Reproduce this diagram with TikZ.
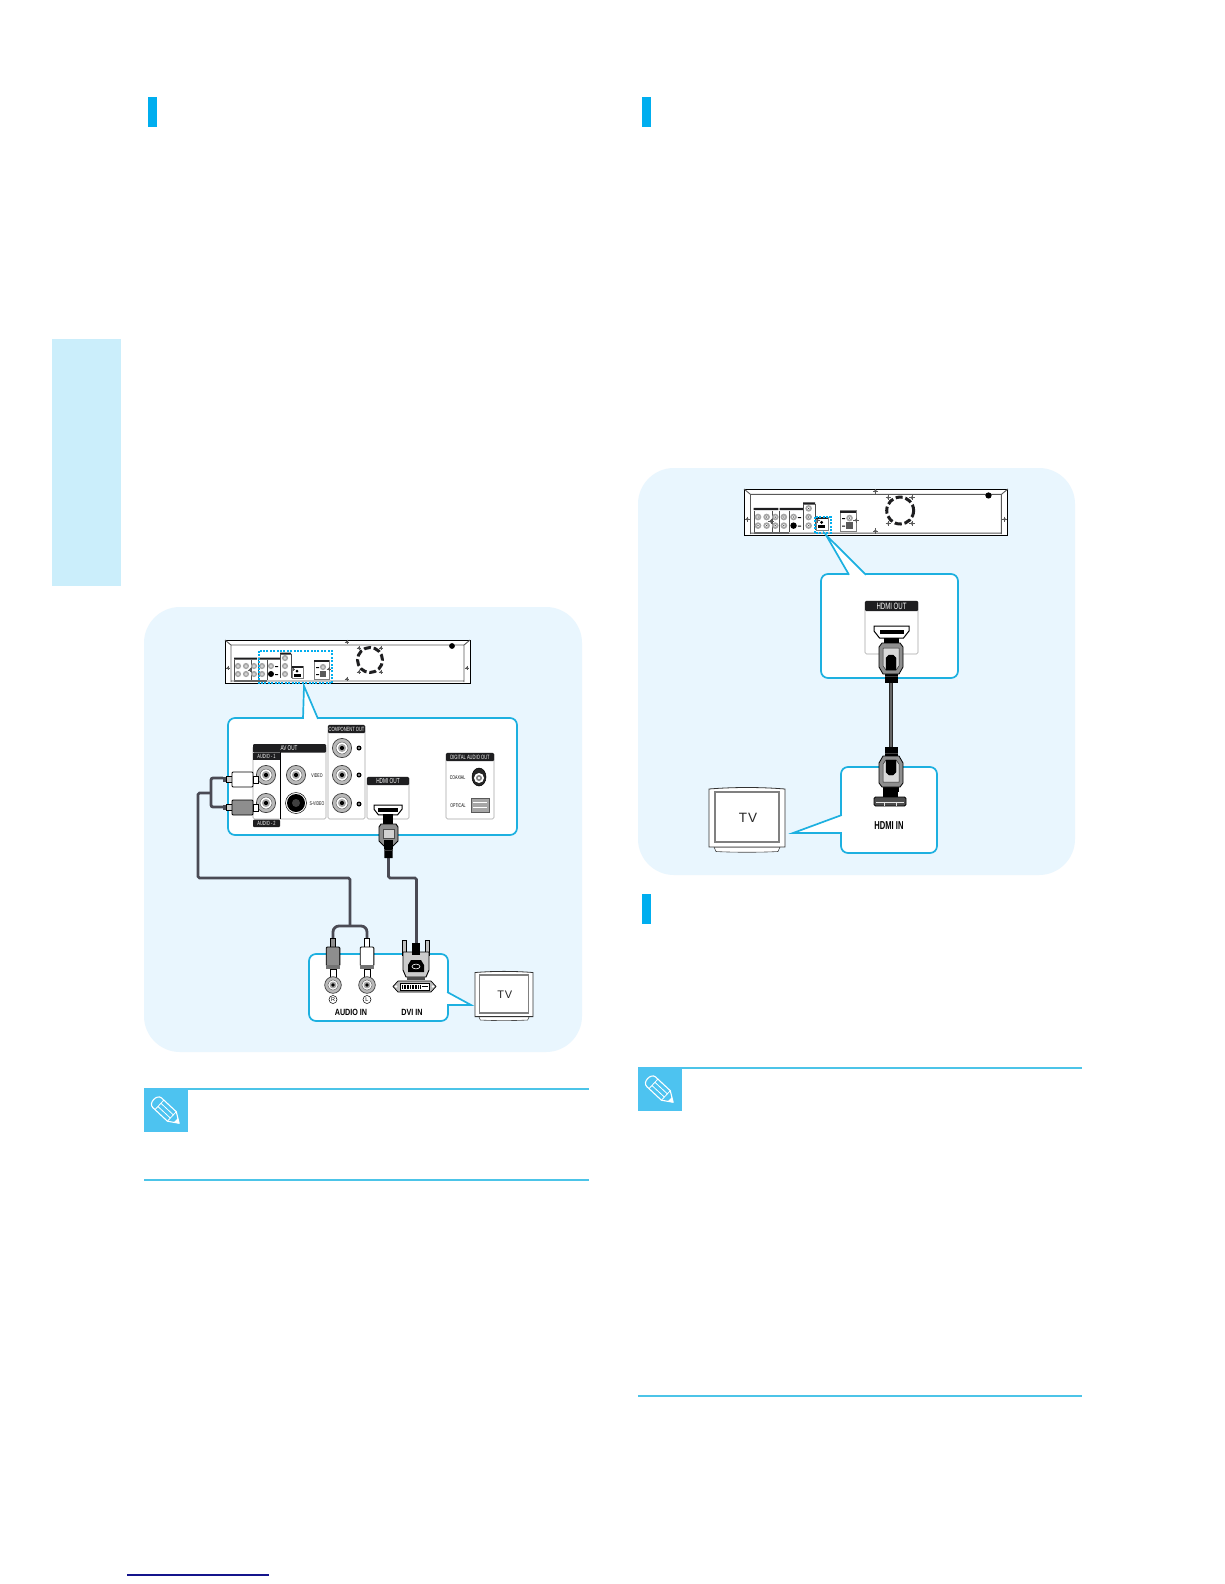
\documentclass[tikz,border=0pt]{standalone}
\usepackage{fontspec}
\setmainfont{Liberation Sans}
\newfontfamily\narrowlab[FakeStretch=0.8]{Liberation Sans}
\newfontfamily\narrowhdr[FakeStretch=0.66]{Liberation Sans}
\definecolor{panelbg}{HTML}{E9F6FE}
\definecolor{sidebar}{HTML}{CBEEFB}
\definecolor{marker}{HTML}{00AEEF}
\definecolor{calloutc}{HTML}{1DB0E0}
\definecolor{rulec}{HTML}{4CC4E8}
\definecolor{iconc}{HTML}{4DC3F0}
\definecolor{cablec}{HTML}{4A4A54}
\definecolor{darkc}{HTML}{1E1E20}
\definecolor{plugg}{HTML}{8E8E8E}
\definecolor{footc}{HTML}{14148C}
\tikzset{
  blackbar/.style={fill=darkc,rounded corners=1pt},
  callout/.style={draw=calloutc,line width=1.7pt,fill=white,rounded corners=7pt},
  calloutedge/.style={draw=calloutc,line width=1.7pt,line join=miter},
  portpanel/.style={draw=gray!70,line width=.6pt,fill=white,rounded corners=1.5pt},
  cable/.style={draw=cablec,line width=2.8pt,rounded corners=2pt},
  hdrtext/.style={inner sep=0pt,text=white,font=\narrowhdr\fontsize{7}{7}\selectfont},
  smalltext/.style={inner sep=0pt,text=black,font=\narrowhdr\fontsize{5.4}{6}\selectfont},
  biglab/.style={inner sep=0pt,text=black,font=\narrowlab\bfseries\fontsize{9}{10}\selectfont},
  dashsel/.style={draw=marker,line width=1.1pt,dash pattern=on 2pt off 1.4pt},
}
% RCA jack
\newcommand\rcajack[3]{%
  \filldraw[draw=black!75,fill=gray!55,line width=.7pt] (#1,#2) circle[radius=#3pt];
  \filldraw[draw=black!60,fill=white,line width=.5pt] (#1,#2) circle[radius={0.62*#3pt}];
  \fill[gray!70] (#1,#2) circle[radius={0.42*#3pt}];
  \fill[black] (#1,#2) circle[radius={0.22*#3pt}];
}
% tiny jack in the rear view
\newcommand\minijack[2]{%
  \fill[gray!70] (#1,#2) circle[radius=3.1pt];
  \fill[white] (#1,#2) circle[radius=1.5pt];
  \fill[black!70] (#1,#2) circle[radius=.7pt];
}
\newcommand\screw[2]{%
  \fill[gray!70!black] (#1,#2) circle[radius=1.4pt];
  \draw[gray!70!black,line width=.4pt] (#1-2.4,#2) -- (#1+2.4,#2) (#1,#2-2.4) -- (#1,#2+2.4);
}
% rear view of the recorder, 245 x 43 in local units
\newcommand\rearbox[3]{%
\begin{scope}[shift={(#1,#2)},scale=#3]
  \filldraw[draw=black,fill=white,line width=1pt] (0,0) rectangle (245,43);
  \draw[gray!70!black,line width=.9pt] (0,0) -- (6,5) -- (239,5) -- (245,0) (6,5) -- (6,42) (239,5) -- (239,42) (6,41) -- (239,41);
  \fill[darkc] (9,17.5) rectangle (32,19.5) (33,17.5) rectangle (55,19.5) (55,12.5) rectangle (66,14.5);
  \fill[black!60] (9,40) rectangle (42,42);
  \draw[black!70,line width=.4pt] (9,20) -- (9,40) (26,20) -- (26,40) (33,20) -- (33,40) (42,20) -- (42,40) (55,14) -- (55,38) (66,14) -- (66,38);
  \minijack{13}{26}\minijack{21}{26}\minijack{29}{26}\minijack{37}{26}
  \minijack{13}{34}\minijack{21}{34}\minijack{29}{34}\minijack{37}{34}
  \minijack{46}{26}\fill[black] (46,34) circle[radius=3pt];
  \fill[black] (50,26) rectangle (53,27) (50,34) rectangle (53,35);
  \minijack{60}{18}\minijack{60}{26}\minijack{60}{34}
  \screw{25}{30}\screw{68}{29}
  \draw[gray,line width=.5pt] (67,26) rectangle (78,38);
  \fill[darkc] (67,26) rectangle (78,28);
  \fill[black] (72,31) circle[radius=1.5pt];
  \fill[black] (69,33.5) rectangle (75.5,36.5);
  \draw[gray,line width=.5pt] (89,20) rectangle (104,39);
  \fill[darkc] (89,20) rectangle (104,22);
  \minijack{98}{27}
  \fill[gray!70!black] (95,31) rectangle (101,37);
  \fill[black] (91,27) rectangle (94,28) (91,34) rectangle (94,35);
  \screw{104}{29}
  \draw[darkc,line width=3pt,dash pattern=on 7pt off 2.8pt,dash phase=1pt] (145,20) circle[radius=12.5pt];
  \screw{134}{8}\screw{156}{8}\screw{134}{32}\screw{156}{32}
  \fill[black] (227,6) circle[radius=2.9pt];
  \screw{122}{2}\screw{122}{39}\screw{3}{28}\screw{242}{28}
\end{scope}}
% box with a pointer: x1 y1 x2 y2, pointer A, tip, B
\newcommand\callbox[7]{%
  \path[callout] (#1,#2) rectangle (#3,#4);
  \fill[white] #5 -- #6 -- #7 -- cycle;
  \draw[white,line width=1.9pt] #5 -- #7;
  \draw[calloutedge] #5 -- #6 -- #7;
}
% TV set, 76 x 65 in local units
\newcommand\tvset[5]{%
\begin{scope}[shift={(#1,#2)},xscale=#3,yscale=#4]
  \filldraw[draw=black!70,fill=white,line width=.6pt] (5,60) -- (7,64.5) .. controls (25,65.5) and (51,65.5) .. (69,64.5) -- (71,60) -- cycle;
  \filldraw[draw=black!80,fill=white,line width=.8pt] (0,2) .. controls (25,0) and (51,0) .. (76,2) -- (76,60) -- (0,60) -- cycle;
  \draw[draw=gray,line width=1.4pt] (6,5) rectangle (70,55);
  \node[inner sep=0pt,text=black!85,font=\fontsize{#5}{#5}\selectfont] at (39,31) {T\kern.08em V};
\end{scope}}
% pencil icon, origin is the corner of the blue square
\newcommand\notepen[2]{%
  \fill[iconc] (#1,#2) rectangle ++(44,44);
  \begin{scope}[shift={(#1+22,#2+23)},rotate=-43]
    \draw[white,line width=1.1pt,line join=round] (-12,-6.5) -- (8,-6.5) -- (18,0) -- (8,6.5) -- (-12,6.5) .. controls (-18.5,6.5) and (-18.5,-6.5) .. (-12,-6.5) -- cycle;
    \draw[white,line width=.8pt] (-9,-6.5) -- (-9,6.5) (-9,-2.2) -- (8,-2.2) (-9,2.2) -- (8,2.2) (8,-6.5) -- (8,6.5);
    \fill[white] (13.5,-3) -- (18,0) -- (13.5,3) -- cycle;
  \end{scope}
}
\newcommand\hdmisock[3]{%
\begin{scope}[shift={(#1,#2)},scale=#3]
  \filldraw[draw=black,fill=white,line width=1pt] (-17.5,-6) -- (17.5,-6) -- (17.5,-1) -- (12,6) -- (-12,6) -- (-17.5,-1) -- cycle;
  \fill[black] (-12,-2) rectangle (12,2);
\end{scope}}
% large HDMI plug, y 0 is the neck side of the body
\newcommand\hdmiplug[3]{%
\begin{scope}[shift={(#1,#2)},yscale=#3]
  \fill[black] (-7.5,-5) rectangle (7.5,1);
  \fill[black] (-6.5,28) rectangle (6.5,40);
  \fill[gray!50!black] (-6.5,33) rectangle (6.5,34);
  \filldraw[draw=black,fill=plugg,line width=.8pt] (-9,0) -- (9,0) -- (12,4) -- (12,24) -- (8,31) -- (-8,31) -- (-12,24) -- (-12,4) -- cycle;
  \filldraw[draw=gray!30!black,fill=gray!30,line width=.5pt] (-8,5) -- (8,5) -- (8,23) -- (5,27) -- (-5,27) -- (-8,23) -- cycle;
  \filldraw[fill=black,draw=black] (-5,15) -- (-2,12) -- (2,12) -- (5,15) -- (5,27) -- (-5,27) -- cycle;
\end{scope}}
% RCA plug seen from the side, horizontal
\newcommand\rcah[2]{%
  \fill[cablec] (223,#1-2.2) rectangle (226,#1+2.2);
  \filldraw[black,fill=gray!40,line width=.6pt] (226,#1-3.2) rectangle (232,#1+3.2);
  \filldraw[draw=black,fill=#2,line width=.9pt,rounded corners=1pt] (232,#1-7.5) rectangle (253,#1+7.5);
  \filldraw[draw=black,fill=white,line width=.7pt] (253,#1-3.5) rectangle (258,#1+3.5);
}
% RCA plug, vertical
\newcommand\rcav[2]{%
  \filldraw[black,fill=#2,line width=.6pt] (#1-2.4,938) rectangle (#1+2.4,947);
  \filldraw[draw=black,fill=#2,line width=.9pt,rounded corners=1pt] (#1-6.8,947) rectangle (#1+6.8,966);
  \fill[black!55] (#1-6.8,965) rectangle (#1+6.8,969);
  \filldraw[draw=black,fill=white,line width=.6pt] (#1-3,969) rectangle (#1+3,977);
}
\begin{document}
\begin{tikzpicture}[x=1pt,y=-1pt]
\useasboundingbox (0,0) rectangle (1224,1584);
\fill[white] (0,0) rectangle (1224,1584);
% page furniture
\fill[sidebar] (52,339) rectangle (121,586);
\fill[marker] (148,97) rectangle (157,127);
\fill[marker] (642,97) rectangle (651,127);
\fill[marker] (642,894) rectangle (651,924);
\draw[draw=footc,line width=1.6pt] (127,1575) -- (269,1575);
% note blocks
\draw[rulec,line width=1.8pt] (144,1089) -- (589,1089);
\draw[rulec,line width=1.8pt] (144,1180) -- (589,1180);
\notepen{144}{1088}
\draw[rulec,line width=2pt] (638,1068) -- (1082,1068);
\draw[rulec,line width=2.8pt] (638,1396) -- (1082,1396);
\notepen{638}{1067}
% panels
\fill[panelbg,rounded corners=36pt] (144,607) rectangle (582,1052);
\fill[panelbg,rounded corners=36pt] (638,468) rectangle (1075,875);

%%%%%%%%%%% left diagram
\rearbox{225}{640}{1}
\draw[dashsel] (259,651) rectangle (332,683);
\callbox{228}{718}{517}{835}{(303,718.8)}{(304,686)}{(318,718.8)}
% AV OUT
\draw[portpanel] (253,746) rectangle (326,819);
\draw[black,line width=.7pt] (280,752) -- (280,819);
\fill[blackbar] (253,744) rectangle (326,752.6);
\node[hdrtext] (avout) at (289,748.4) {AV OUT};
\fill[darkc] (253,752.6) rectangle (280,760);
\node[hdrtext,font=\narrowhdr\fontsize{6}{6}\selectfont] (audio1) at (266.5,756.4) {AUDIO - 1};
\fill[blackbar] (253,819.5) rectangle (280,827);
\node[hdrtext,font=\narrowhdr\fontsize{6}{6}\selectfont] (audio2) at (266.5,823.3) {AUDIO - 2};
\rcajack{266}{775}{9.6}
\rcajack{266}{803}{9.6}
\rcajack{296}{775}{9.6}
\filldraw[draw=black,fill=white,line width=.5pt] (296,803) circle[radius=10.5pt];
\fill[black] (296,803) circle[radius=9pt];
\fill[gray!50!black] (296,803) circle[radius=4pt];
\node[smalltext] (videolab) at (317,775.5) {VIDEO};
\node[smalltext] (svideolab) at (317,804) {S-VIDEO};
% COMPONENT
\draw[portpanel] (328,725) rectangle (365,819);
\fill[blackbar] (328,725) rectangle (365,733);
\node[hdrtext,font=\narrowhdr\fontsize{6.1}{6}\selectfont] (compout) at (346.5,729.2) {COMPONENT OUT};
\rcajack{342}{748}{9.6}
\rcajack{342}{775}{9.6}
\rcajack{342}{803}{9.6}
\foreach \yy in {748,775,804} {
  \fill[black] (359,\yy) circle[radius=2.5pt];
  \fill[white] (359,\yy) circle[radius=.8pt];
}
% HDMI OUT
\draw[portpanel] (367,777) rectangle (409,819);
\fill[blackbar] (367,777) rectangle (409,785);
\node[hdrtext,font=\narrowhdr\fontsize{7.2}{7}\selectfont] (hdmioutA) at (388,781) {HDMI OUT};
\hdmisock{388}{810}{.8}
% DIGITAL
\draw[portpanel] (446,753) rectangle (494,819);
\fill[blackbar] (446,753) rectangle (494,761);
\node[hdrtext,font=\narrowhdr\fontsize{6.2}{6}\selectfont] (digout) at (470,757) {DIGITAL AUDIO OUT};
\node[smalltext] (coaxlab) at (457.5,777.5) {COAXIAL};
\node[smalltext] (optlab) at (458,806) {OPTICAL};
\filldraw[draw=black,fill=black!85,line width=.5pt] (479,777) ellipse[x radius=7pt,y radius=9pt];
\fill[white] (479,778) circle[radius=5pt];
\fill[gray] (479,778) circle[radius=3pt];
\fill[white] (479,778) circle[radius=1.3pt];
\filldraw[draw=gray!70!black,fill=gray!70,line width=.5pt] (471,798) rectangle (489,812);
\draw[white,line width=.5pt] (473,802) -- (487,802) (473,807) -- (487,807);

% cables left
\coordinate (rcaWhite) at (223,778);
\coordinate (rcaGrey) at (223,807);
\coordinate (busTop) at (211,793);
\coordinate (audioTop) at (198,793);
\coordinate (audioMid) at (350,926);
\coordinate (rcaR) at (333,939);
\coordinate (rcaL) at (367,939);
\coordinate (plugA) at (388.5,856);
\coordinate (dviTop) at (416.5,945);
\draw[cable] (rcaWhite) -- (211,778) -- (211,807) -- (rcaGrey);
\draw[cable,rounded corners=1.5pt] (busTop) -- (audioTop) -- (198,878) -- (350,878) -- (audioMid);
\draw[cable,rounded corners=6pt] (rcaR) -- (333,926) -- (367,926) -- (rcaL);
\draw[cable,rounded corners=1.5pt] (plugA) -- (388.5,878) -- (416.5,878) -- (dviTop);
% top RCA plugs
\rcah{779.5}{white}
\rcah{807.5}{plugg}
% left HDMI plug
\fill[black] (383,814) rectangle (393,825);
\filldraw[draw=black,fill=plugg,line width=.9pt] (381,824) -- (396,824) -- (398,827) -- (398,841) -- (393,846) -- (384,846) -- (379,841) -- (379,827) -- cycle;
\filldraw[draw=black!70,fill=gray!35,line width=.5pt] (383.5,829) rectangle (394,838);
\fill[black] (384,840) -- (393,840) -- (392.5,858) -- (384.5,858) -- cycle;
\fill[gray!50!black] (384.5,850) rectangle (392.5,851);

% lower left box
\callbox{309}{954}{448}{1021}{(447.2,992)}{(471,1005)}{(447.2,1005)}
\rcav{333}{plugg}
\rcav{367}{white}
\rcajack{333}{985}{8.3}
\rcajack{367}{985}{8.3}
\node[draw=black,circle,line width=.5pt,inner sep=.6pt,minimum size=8pt,font=\fontsize{5.5}{6}\selectfont] (rlab) at (333,999.5) {R};
\node[draw=black,circle,line width=.5pt,inner sep=.6pt,minimum size=8pt,font=\fontsize{5.5}{6}\selectfont] (llab) at (367,999.5) {L};
\node[biglab] (audioin) at (351,1012) {AUDIO IN};
\node[biglab] (dviin) at (412,1012) {DVI IN};
% DVI
\foreach \xx in {404,427} {
  \filldraw[draw=black,fill=gray!50,line width=.6pt] (\xx-1.8,940) rectangle (\xx+1.8,955);
}
\filldraw[draw=black,fill=gray!40,line width=.9pt] (403,952) -- (429,952) -- (429,970) -- (426,977) -- (406,977) -- (403,970) -- cycle;
\fill[black] (412,943) rectangle (420,955);
\fill[black] (408,965) -- (411,960) -- (421,960) -- (424,965) -- (424,972) -- (408,972) -- cycle;
\draw[white,line width=.6pt] (416,966.5) ellipse[x radius=4pt,y radius=2.4pt];
\fill[gray!60!black] (407,977) rectangle (425,980);
\filldraw[draw=black,fill=gray!55,line width=.7pt] (393,986.5) -- (398,981) -- (431,981) -- (436,986.5) -- (431,992) -- (398,992) -- cycle;
\filldraw[draw=black,fill=white,line width=.5pt] (400,983) rectangle (429,990);
\draw[black,line width=4pt,dash pattern=on .9pt off .7pt] (402,986.5) -- (420,986.5);
\fill[black] (422,986) rectangle (428,987);
\fill[white] (396,986.5) circle[radius=1.4pt] (433,986.5) circle[radius=1.4pt];
\tvset{475}{971}{.763}{.76}{11}

%%%%%%%%%%% right diagram
\rearbox{744}{489}{1.077}
\draw[dashsel] (815,517) rectangle (831,533);
\callbox{821}{574}{958}{678}{(849,574.8)}{(826,535)}{(866,574.8)}
\draw[portpanel] (865,601) rectangle (918,654);
\fill[blackbar] (865,601) rectangle (918,611);
\node[hdrtext,font=\narrowhdr\fontsize{9.2}{9}\selectfont] (hdmioutB) at (891.5,606.2) {HDMI OUT};
\hdmisock{891.5}{632}{1}
\callbox{841}{767}{937}{853}{(841.8,815)}{(793,833)}{(841.8,833)}
\node[biglab,font=\narrowhdr\bfseries\fontsize{11.5}{12}\selectfont] (hdmiin) at (889,826) {HDMI IN};
% socket at bottom
\fill[black] (883,787) rectangle (898,798);
\filldraw[draw=black,fill=gray!60!black,line width=.8pt,rounded corners=1.5pt] (874,797) rectangle (906,806);
\draw[gray!20,line width=.5pt] (876,802) -- (904,802);
\draw[gray!20,line width=.5pt] (884,802) -- (884,806) (896,802) -- (896,806);
% cable right
\coordinate (plugTop) at (891,680);
\coordinate (plugBot) at (891,750);
\draw[draw=black!85,line width=4pt] (plugTop) -- (plugBot);
\draw[draw=gray!80!black,line width=2.2pt] (plugTop) -- (plugBot);
\hdmiplug{891}{643}{1}
\hdmiplug{891}{787}{-1}
\tvset{709}{787}{1}{1}{13.5}
\end{tikzpicture}
\end{document}
